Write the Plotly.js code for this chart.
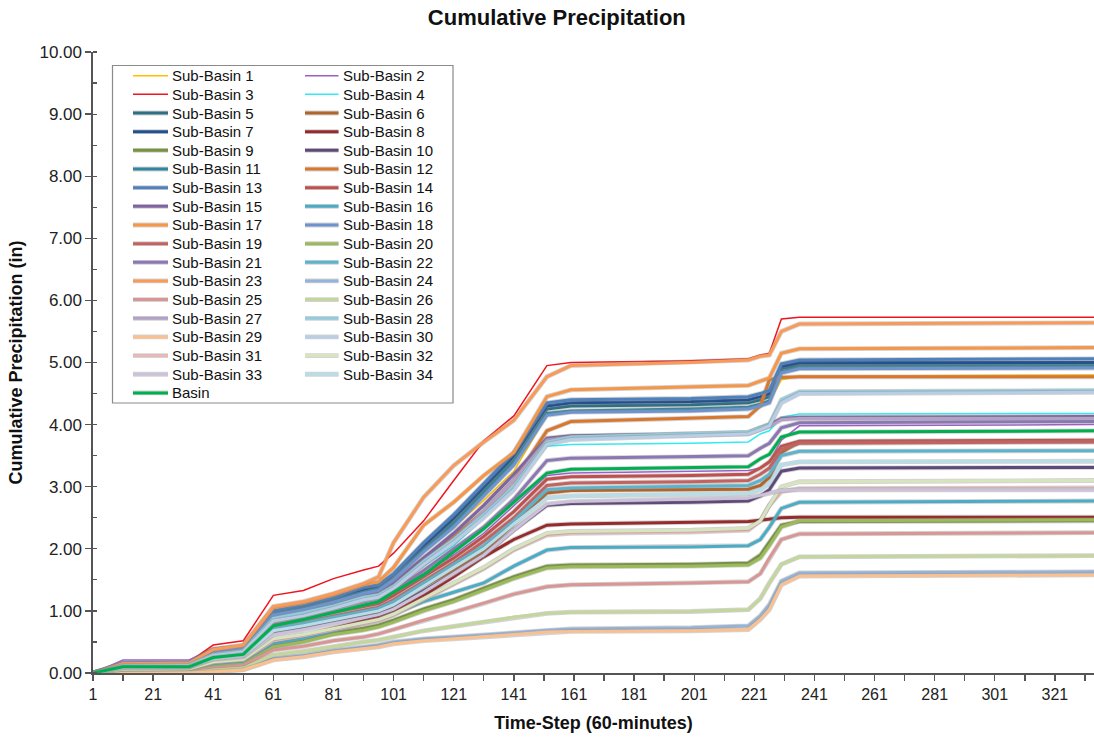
<!DOCTYPE html>
<html><head><meta charset="utf-8">
<script src="https://cdn.plot.ly/plotly-3.0.1.min.js"></script>
<style>html,body{margin:0;padding:0;background:#fff}#chart{width:1094px;height:740px}</style>
</head><body><div id="chart"></div>
<script>
// Time steps at which values were read
const steps = [1, 11, 33, 41, 51, 61, 71, 81, 91, 96, 101, 111, 121, 131, 141, 152, 160, 200, 219, 223, 226, 230, 236, 336];

const sb1  = [0, 0.14, 0.15, 0.33, 0.40, 0.95, 1.04, 1.15, 1.30, 1.34, 1.50, 1.95, 2.35, 2.78, 3.25, 4.15, 4.22, 4.25, 4.28, 4.32, 4.37, 4.72, 4.78, 4.80];
const sb2  = [0, 0.21, 0.21, 0.40, 0.45, 0.95, 1.02, 1.12, 1.22, 1.25, 1.35, 1.60, 1.90, 2.25, 2.70, 3.18, 3.22, 3.24, 3.26, 3.30, 3.40, 3.75, 3.98, 4.00];
const sb3  = [0, 0.17, 0.18, 0.45, 0.52, 1.25, 1.33, 1.52, 1.66, 1.72, 1.93, 2.45, 3.10, 3.74, 4.14, 4.95, 5.00, 5.03, 5.06, 5.12, 5.15, 5.70, 5.73, 5.73];
const sb4  = [0, 0.12, 0.13, 0.30, 0.36, 0.90, 0.98, 1.10, 1.22, 1.27, 1.40, 1.72, 2.05, 2.50, 3.00, 3.65, 3.68, 3.70, 3.72, 3.85, 3.90, 4.12, 4.17, 4.18];
const sb5  = [0, 0.14, 0.15, 0.35, 0.41, 0.97, 1.06, 1.18, 1.33, 1.38, 1.55, 2.02, 2.45, 2.95, 3.45, 4.25, 4.30, 4.32, 4.35, 4.40, 4.45, 4.90, 4.96, 4.97];
const sb6  = [0, 0.10, 0.11, 0.25, 0.30, 0.72, 0.80, 0.90, 0.98, 1.02, 1.12, 1.40, 1.65, 1.95, 2.40, 2.90, 2.94, 2.95, 2.96, 3.02, 3.15, 3.55, 3.72, 3.73];
const sb7  = [0, 0.15, 0.16, 0.36, 0.42, 0.98, 1.08, 1.20, 1.35, 1.40, 1.57, 2.05, 2.50, 3.00, 3.50, 4.30, 4.35, 4.37, 4.40, 4.45, 4.50, 4.94, 5.00, 5.00];
const sb8  = [0, 0.06, 0.07, 0.17, 0.21, 0.52, 0.60, 0.72, 0.85, 0.90, 1.00, 1.25, 1.55, 1.87, 2.15, 2.38, 2.40, 2.42, 2.44, 2.46, 2.48, 2.50, 2.51, 2.51];
const sb9  = [0, 0.04, 0.05, 0.12, 0.16, 0.45, 0.53, 0.64, 0.72, 0.77, 0.85, 1.03, 1.18, 1.36, 1.55, 1.72, 1.74, 1.75, 1.77, 1.90, 2.10, 2.38, 2.44, 2.45];
const sb10 = [0, 0.10, 0.11, 0.24, 0.28, 0.66, 0.74, 0.84, 0.92, 0.96, 1.05, 1.32, 1.60, 1.90, 2.30, 2.70, 2.73, 2.75, 2.77, 2.85, 2.95, 3.25, 3.30, 3.31];
const sb11 = [0, 0.14, 0.15, 0.34, 0.40, 0.95, 1.04, 1.16, 1.30, 1.35, 1.52, 1.98, 2.40, 2.90, 3.40, 4.18, 4.22, 4.25, 4.28, 4.33, 4.38, 4.85, 4.92, 4.94];
const sb12 = [0, 0.14, 0.15, 0.33, 0.39, 0.92, 1.00, 1.12, 1.25, 1.30, 1.45, 1.85, 2.20, 2.60, 3.10, 3.90, 4.05, 4.10, 4.13, 4.30, 4.72, 4.76, 4.77, 4.77];
const sb13 = [0, 0.16, 0.17, 0.38, 0.44, 1.00, 1.10, 1.22, 1.38, 1.42, 1.60, 2.10, 2.55, 3.05, 3.55, 4.35, 4.40, 4.42, 4.45, 4.50, 4.55, 4.98, 5.04, 5.06];
const sb14 = [0, 0.12, 0.13, 0.28, 0.34, 0.80, 0.88, 0.98, 1.08, 1.12, 1.25, 1.55, 1.85, 2.20, 2.60, 3.12, 3.16, 3.18, 3.20, 3.30, 3.40, 3.65, 3.73, 3.75];
const sb15 = [0, 0.13, 0.14, 0.32, 0.38, 0.90, 0.98, 1.10, 1.25, 1.30, 1.45, 1.85, 2.25, 2.70, 3.20, 3.78, 3.82, 3.85, 3.87, 3.95, 4.00, 4.10, 4.12, 4.13];
const sb16 = [0, 0.05, 0.06, 0.15, 0.19, 0.48, 0.56, 0.68, 0.80, 0.86, 0.95, 1.15, 1.30, 1.45, 1.72, 1.98, 2.02, 2.03, 2.05, 2.15, 2.35, 2.65, 2.75, 2.77];
const sb17 = [0, 0.15, 0.16, 0.36, 0.43, 1.05, 1.13, 1.26, 1.42, 1.47, 1.70, 2.38, 2.75, 3.18, 3.55, 4.45, 4.56, 4.60, 4.63, 4.70, 4.75, 5.15, 5.22, 5.24];
const sb18 = [0, 0.13, 0.14, 0.33, 0.39, 0.93, 1.02, 1.14, 1.28, 1.33, 1.50, 1.95, 2.35, 2.85, 3.35, 4.15, 4.20, 4.22, 4.25, 4.30, 4.35, 4.83, 4.90, 4.91];
const sb19 = [0, 0.11, 0.12, 0.26, 0.31, 0.74, 0.82, 0.92, 1.02, 1.06, 1.18, 1.48, 1.78, 2.12, 2.50, 3.02, 3.06, 3.08, 3.10, 3.20, 3.30, 3.60, 3.70, 3.72];
const sb20 = [0, 0.03, 0.04, 0.10, 0.14, 0.42, 0.50, 0.62, 0.69, 0.74, 0.82, 1.00, 1.15, 1.33, 1.52, 1.69, 1.71, 1.72, 1.74, 1.85, 2.05, 2.35, 2.45, 2.47];
const sb21 = [0, 0.12, 0.13, 0.30, 0.36, 0.85, 0.93, 1.04, 1.15, 1.20, 1.32, 1.65, 2.00, 2.35, 2.80, 3.42, 3.46, 3.48, 3.50, 3.62, 3.70, 3.95, 4.03, 4.05];
const sb22 = [0, 0.10, 0.11, 0.25, 0.30, 0.72, 0.80, 0.90, 1.00, 1.04, 1.15, 1.45, 1.75, 2.05, 2.45, 2.95, 2.98, 3.00, 3.02, 3.10, 3.20, 3.50, 3.57, 3.58];
const sb23 = [0, 0.15, 0.16, 0.38, 0.45, 1.07, 1.15, 1.28, 1.44, 1.55, 2.10, 2.83, 3.34, 3.72, 4.07, 4.77, 4.95, 5.00, 5.04, 5.10, 5.12, 5.50, 5.62, 5.64];
const sb24 = [0, 0.00, 0.00, 0.03, 0.06, 0.23, 0.28, 0.36, 0.42, 0.45, 0.50, 0.55, 0.58, 0.61, 0.65, 0.69, 0.71, 0.73, 0.76, 0.92, 1.10, 1.48, 1.61, 1.63];
const sb25 = [0, 0.02, 0.03, 0.08, 0.12, 0.37, 0.43, 0.52, 0.58, 0.63, 0.70, 0.85, 0.98, 1.12, 1.27, 1.39, 1.42, 1.45, 1.47, 1.60, 1.85, 2.15, 2.24, 2.26];
const sb26 = [0, 0.01, 0.01, 0.05, 0.08, 0.29, 0.35, 0.43, 0.50, 0.53, 0.58, 0.68, 0.75, 0.82, 0.90, 0.96, 0.98, 0.99, 1.02, 1.20, 1.45, 1.75, 1.87, 1.89];
const sb27 = [0, 0.10, 0.11, 0.28, 0.33, 0.82, 0.90, 1.02, 1.16, 1.20, 1.35, 1.75, 2.15, 2.60, 3.10, 3.75, 3.80, 3.83, 3.85, 3.92, 3.97, 4.08, 4.10, 4.10];
const sb28 = [0, 0.12, 0.13, 0.30, 0.36, 0.88, 0.97, 1.08, 1.22, 1.26, 1.40, 1.80, 2.15, 2.55, 3.00, 3.72, 3.80, 3.85, 3.88, 3.95, 4.00, 4.40, 4.53, 4.55];
const sb29 = [0, 0.00, 0.00, 0.02, 0.05, 0.21, 0.26, 0.34, 0.40, 0.42, 0.47, 0.52, 0.55, 0.58, 0.62, 0.66, 0.67, 0.68, 0.70, 0.86, 1.02, 1.42, 1.56, 1.58];
const sb30 = [0, 0.11, 0.12, 0.28, 0.34, 0.84, 0.92, 1.04, 1.18, 1.22, 1.36, 1.75, 2.10, 2.50, 2.95, 3.68, 3.76, 3.82, 3.85, 3.92, 3.98, 4.35, 4.50, 4.52];
const sb31 = [0, 0.06, 0.07, 0.17, 0.21, 0.52, 0.60, 0.70, 0.80, 0.84, 0.93, 1.18, 1.42, 1.68, 1.98, 2.22, 2.25, 2.27, 2.30, 2.45, 2.70, 2.92, 2.97, 2.98];
const sb32 = [0, 0.06, 0.07, 0.18, 0.22, 0.55, 0.62, 0.72, 0.82, 0.86, 0.95, 1.20, 1.45, 1.70, 2.00, 2.25, 2.28, 2.30, 2.33, 2.45, 2.70, 3.00, 3.08, 3.10];
const sb33 = [0, 0.08, 0.09, 0.22, 0.26, 0.62, 0.70, 0.80, 0.90, 0.94, 1.03, 1.30, 1.60, 1.90, 2.30, 2.72, 2.76, 2.80, 2.82, 2.86, 2.90, 2.94, 2.95, 2.95];
const sb34 = [0, 0.09, 0.10, 0.23, 0.28, 0.68, 0.76, 0.86, 0.96, 1.00, 1.10, 1.40, 1.70, 2.00, 2.40, 2.82, 2.85, 2.87, 2.89, 2.95, 3.05, 3.35, 3.40, 3.41];
const basin = [0, 0.10, 0.10, 0.25, 0.30, 0.76, 0.86, 0.97, 1.09, 1.15, 1.30, 1.58, 1.95, 2.32, 2.75, 3.22, 3.28, 3.30, 3.32, 3.45, 3.52, 3.80, 3.88, 3.90];

const seriesNames = ['Sub-Basin 1','Sub-Basin 2','Sub-Basin 3','Sub-Basin 4','Sub-Basin 5','Sub-Basin 6','Sub-Basin 7','Sub-Basin 8','Sub-Basin 9','Sub-Basin 10','Sub-Basin 11','Sub-Basin 12','Sub-Basin 13','Sub-Basin 14','Sub-Basin 15','Sub-Basin 16','Sub-Basin 17','Sub-Basin 18','Sub-Basin 19','Sub-Basin 20','Sub-Basin 21','Sub-Basin 22','Sub-Basin 23','Sub-Basin 24','Sub-Basin 25','Sub-Basin 26','Sub-Basin 27','Sub-Basin 28','Sub-Basin 29','Sub-Basin 30','Sub-Basin 31','Sub-Basin 32','Sub-Basin 33','Sub-Basin 34','Basin'];
const seriesValues = [sb1,sb2,sb3,sb4,sb5,sb6,sb7,sb8,sb9,sb10,sb11,sb12,sb13,sb14,sb15,sb16,sb17,sb18,sb19,sb20,sb21,sb22,sb23,sb24,sb25,sb26,sb27,sb28,sb29,sb30,sb31,sb32,sb33,sb34,basin];
const seriesColors = ['#FFC000','#9B5FC8','#F0141E','#33EAF2','#2E6F84','#B0652A','#23508F','#962B2B','#76923C','#5F497A','#31859C','#D9782D','#4F81BD','#C0504D','#8064A2','#4BACC6','#F79646','#6F94CD','#C4625F','#9BBB59','#8B77B3','#5EB3CC','#F99A58','#95B3D7','#D99694','#C3D69B','#B3A2C7','#93CDDD','#FAC090','#B9CDE5','#E6B9B8','#D7E4BD','#CCC1DA','#B7DEE8','#00B050'];
const thinCount = 4; // first four series are drawn with thin lines
const xTickStart = 1, xTickStep = 20, yTickStep = 1;

const haloColor = 'rgba(140,140,140,0.38)';
const traces = [];
seriesValues.forEach((vals, i) => {
  const thin = i < thinCount;
  if (!thin) {
    traces.push({x: steps, y: vals, type: 'scatter', mode: 'lines', showlegend: false, hoverinfo: 'skip',
      line: {color: haloColor, width: 4.8}});
  }
  traces.push({x: steps, y: vals, type: 'scatter', mode: 'lines', name: seriesNames[i], showlegend: false,
    line: {color: seriesColors[i], width: thin ? 1.5 : 3}});
});

// plot-area pixel frame
const L = 93, R = 1094, T = 52, B = 673;
const W = R - L, H = B - T;
const px = x => (x - L) / W;
const py = y => (B - y) / H;

// manual legend (two columns, row-wise order)
const shapes = [];
const annotations = [];
shapes.push({type: 'rect', xref: 'paper', yref: 'paper', x0: px(112.5), x1: px(453), y0: py(403), y1: py(65.5),
  line: {color: '#8a8a8a', width: 1.2}, fillcolor: 'rgba(255,255,255,1)', layer: 'above'});
const rowTop = 75.7, rowGap = 18.66;
seriesNames.forEach((nm, i) => {
  const row = Math.floor(i / 2), col = i % 2;
  const yy = rowTop + row * rowGap;
  const sx0 = col === 0 ? 133 : 305, sx1 = col === 0 ? 168 : 338.5, tx = col === 0 ? 169.5 : 341;
  const thin = i < thinCount;
  if (!thin) {
    shapes.push({type: 'line', xref: 'paper', yref: 'paper', x0: px(sx0), x1: px(sx1), y0: py(yy), y1: py(yy),
      line: {color: haloColor, width: 4.8}, layer: 'above'});
  }
  shapes.push({type: 'line', xref: 'paper', yref: 'paper', x0: px(sx0), x1: px(sx1), y0: py(yy), y1: py(yy),
    line: {color: seriesColors[i], width: thin ? 1.5 : 3}, layer: 'above'});
  annotations.push({xref: 'paper', yref: 'paper', x: px(tx), y: py(yy), xanchor: 'left', yanchor: 'middle',
    text: nm, showarrow: false, font: {family: 'Arial, Liberation Sans', size: 15, color: '#111'}});
});

const layout = {
  width: 1094, height: 740,
  margin: {l: L, r: 0, t: T, b: 740 - B, pad: 0},
  paper_bgcolor: '#ffffff', plot_bgcolor: '#ffffff',
  font: {family: 'Arial, Liberation Sans', color: '#222'},
  title: {text: 'Cumulative Precipitation', xref: 'container', yref: 'container', x: 0.509, xanchor: 'center',
    y: 0.977, yanchor: 'middle', font: {family: 'Arial, Liberation Sans', size: 22, weight: 'bold', color: '#111'}},
  xaxis: {
    range: [1, 334], showgrid: false, zeroline: false, showline: true, linecolor: '#555', linewidth: 1.6,
    tick0: xTickStart, dtick: xTickStep, ticks: 'outside', ticklen: 6, tickwidth: 1.4, tickcolor: '#555',
    minor: {tick0: xTickStart, dtick: 10, ticks: 'outside', ticklen: 6, tickwidth: 1.4, tickcolor: '#555'},
    tickfont: {family: 'Arial, Liberation Sans', size: 16, color: '#222'},
    title: {text: 'Time-Step (60-minutes)', standoff: 14, font: {family: 'Arial, Liberation Sans', size: 18, weight: 'bold', color: '#111'}}
  },
  yaxis: {
    range: [0, 10], showgrid: false, zeroline: false, showline: true, linecolor: '#555', linewidth: 1.6,
    dtick: yTickStep, tickformat: '.2f', ticks: 'outside', ticklen: 6, tickwidth: 1.4, tickcolor: '#555',
    minor: {dtick: 0.5, ticks: 'inside', ticklen: 4, tickwidth: 1.2, tickcolor: '#555'},
    tickfont: {family: 'Arial, Liberation Sans', size: 17, color: '#222'},
    title: {text: 'Cumulative Precipitation (in)', standoff: 12, font: {family: 'Arial, Liberation Sans', size: 18, weight: 'bold', color: '#111'}}
  },
  shapes: shapes,
  annotations: annotations,
  hovermode: false
};

Plotly.newPlot('chart', traces, layout, {staticPlot: true, displayModeBar: false});
</script>
</body></html>
